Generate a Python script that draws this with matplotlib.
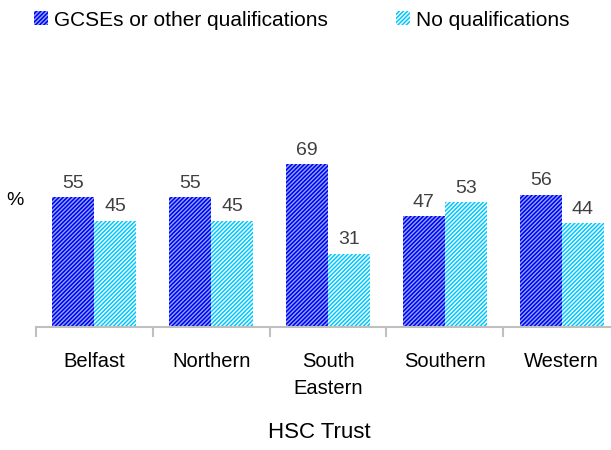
import numpy as np
import matplotlib.pyplot as plt

plt.rcParams['font.family'] = ['Liberation Sans', 'DejaVu Sans']
plt.rcParams['hatch.linewidth'] = 1.0

trusts = ["Belfast", "Northern", "South\nEastern", "Southern", "Western"]
gcse = [55, 55, 69, 47, 56]
no_qual = [45, 45, 31, 53, 44]
series_names = ["GCSEs or other qualifications", "No qualifications"]

fig = plt.figure(figsize=(6.11, 4.5), dpi=100)
ax = fig.add_axes([0.0589, 0.273, 0.956, 0.42])

x = np.arange(len(trusts))
w = 0.36
b1 = ax.bar(x - w / 2, gcse, w, color='#0000EE', edgecolor='#8FA8FF', linewidth=0, hatch='////////')
b2 = ax.bar(x + w / 2, no_qual, w, color='#00C8FF', edgecolor='white', linewidth=0, hatch='////////')

for bars in (b1, b2):
    for r in bars:
        ax.text(r.get_x() + r.get_width() / 2, r.get_height() + 2.3, f"{r.get_height():.0f}",
                ha='center', va='bottom', fontsize=14, color='#404040')

ax.set_xlim(-0.5, len(trusts) - 0.5)
ax.set_ylim(0, 80)
for s in ['top', 'right', 'left']:
    ax.spines[s].set_visible(False)
ax.spines['bottom'].set_color('#BFBFBF')
ax.spines['bottom'].set_linewidth(1.5)
ax.set_yticks([])

ax.set_xticks(np.arange(-0.5, len(trusts)), labels=[])
ax.tick_params(axis='x', which='major', length=7, width=1.5, color='#BFBFBF')
ax.set_xticks(x, labels=trusts, minor=True)
ax.tick_params(axis='x', which='minor', length=0, pad=18, labelsize=14.5)
for lbl in ax.get_xticklabels(minor=True):
    lbl.set_linespacing(1.5)

fig.text(0.025, 0.555, "%", fontsize=14, ha='center', va='center')
fig.text(0.522, 0.04, "HSC Trust", fontsize=16, ha='center', va='center')

leg_x = [34 / 611, 396 / 611]
for bars, name, lx in zip((b1, b2), series_names, leg_x):
    fig.legend(handles=[bars], labels=[name], loc='center left', bbox_to_anchor=(lx, 1 - 20 / 450),
               frameon=False, fontsize=15, handlelength=0.65, handleheight=0.65,
               handletextpad=0.3, borderaxespad=0, borderpad=0)

fig.savefig("out.png", dpi=100)
